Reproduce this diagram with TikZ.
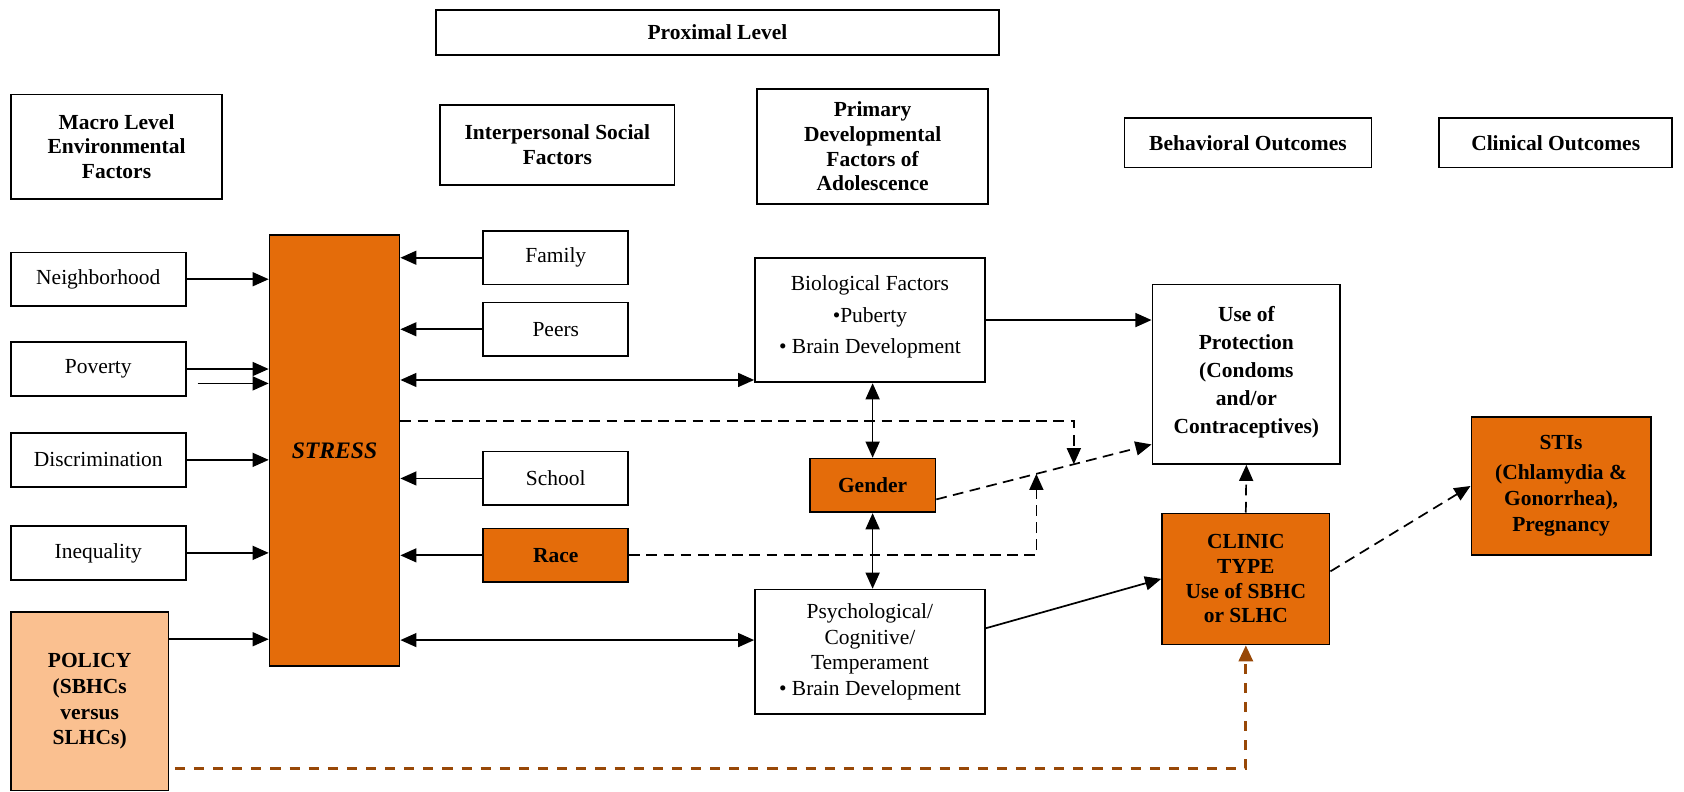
\documentclass[tikz,border=0pt]{standalone}
\usepackage{fontspec}
\setmainfont{Liberation Serif}
\usetikzlibrary{positioning}
\usetikzlibrary{calc}
\usetikzlibrary{arrows.meta}
\definecolor{stressorange}{RGB}{228,108,10}
\definecolor{policypeach}{RGB}{250,192,144}
\definecolor{policybrown}{RGB}{152,72,7}

\begin{document}
\begin{tikzpicture}[x=0.5pt, y=-0.5pt, line width=0.8pt,
        every node/.style={align=center, font=\fontsize{10}{12}\selectfont},
        plainbox/.style={draw, inner sep=1pt},
        headbox/.style={plainbox, font=\fontsize{10}{11.5}\selectfont\bfseries},
        hotbox/.style={plainbox, fill=stressorange, font=\fontsize{10}{11.5}\selectfont\bfseries},
        arrowline/.style={-{Triangle[length=7.5pt,width=6.5pt]}},
        twoway/.style={{Triangle[length=7.5pt,width=6.5pt]}-{Triangle[length=7.5pt,width=6.5pt]}},
        dashline/.style={arrowline, dash pattern=on 5pt off 3pt},
        brownline/.style={-{Triangle[length=7.5pt,width=6.5pt]}, draw=policybrown, line width=1.5pt, dash pattern=on 4.7pt off 4.2pt}]

        \useasboundingbox (0,0) rectangle (1568,737);

        % Level headings
        \node[headbox, minimum width=262pt, minimum height=21pt] (proxBox) at (668,30) {Proximal Level};
        \node[headbox, minimum width=98.5pt, minimum height=48.5pt] (macroBox) at (108.5,136.5) {Macro Level\\Environmental\\Factors};
        \node[headbox, minimum width=109pt, minimum height=37pt] (interBox) at (519,135) {Interpersonal Social\\Factors};
        \node[headbox, minimum width=107.5pt, minimum height=53.5pt] (primBox) at (812.5,136.5) {Primary\\Developmental\\Factors of\\Adolescence};
        \node[headbox, minimum width=115pt, minimum height=23pt] (behavBox) at (1162,133) {Behavioral Outcomes};
        \node[headbox, minimum width=108.5pt, minimum height=23pt] (clinOutBox) at (1448.5,133) {Clinical Outcomes};

        % Macro level factors
        \node[plainbox, minimum width=81.5pt, minimum height=25pt] (nbhdBox) at (91.5,260) {Neighborhood};
        \node[plainbox, minimum width=81.5pt, minimum height=25pt, below=16pt of nbhdBox] (povBox) {Poverty};
        \node[plainbox, minimum width=81.5pt, minimum height=25pt, below=16.5pt of povBox] (discBox) {Discrimination};
        \node[plainbox, minimum width=81.5pt, minimum height=25pt, below=17.5pt of discBox] (ineqBox) {Inequality};
        \node[plainbox, fill=policypeach, font=\fontsize{10}{12}\selectfont\bfseries, minimum width=73.5pt, minimum height=83pt] (policyBox) at (83.5,653) {POLICY\\(SBHCs\\versus\\SLHCs)};

        % Stress
        \node[plainbox, fill=stressorange, minimum width=60.5pt, minimum height=200.5pt, font=\fontsize{11}{13}\selectfont\bfseries\itshape] (stressBox) at (311.5,419.5) {STRESS};

        % Interpersonal social factors
        \node[plainbox, minimum width=67.5pt, minimum height=25pt] (famBox) at (517.5,240) {Family};
        \node[plainbox, minimum width=67.5pt, minimum height=25pt, below=7.5pt of famBox] (peerBox) {Peers};
        \node[plainbox, minimum width=67.5pt, minimum height=25pt] (schoolBox) at (517.5,445.5) {School};
        \node[hotbox, minimum width=67.5pt, minimum height=25pt, below=10pt of schoolBox] (raceBox) {Race};

        % Developmental factors
        \node[plainbox, minimum width=107pt, minimum height=58pt] (bioBox) at (810,298) {Biological Factors\\[2.5pt]\textbullet Puberty\\[2.5pt]\textbullet\ Brain Development\\[-7pt]\mbox{}};
        \node[hotbox, minimum width=58.5pt, minimum height=25pt] (genderBox) at (812.5,452) {Gender};
        \node[plainbox, minimum width=107pt, minimum height=58pt] (psychBox) at (810,607) {Psychological/\\Cognitive/\\Temperament\\\textbullet\ Brain Development};

        % Outcomes
        \node[headbox, minimum width=87.5pt, minimum height=83.5pt, font=\fontsize{10}{13}\selectfont\bfseries] (protectBox) at (1160.5,348.5) {Use of\\Protection\\(Condoms\\and/or\\Contraceptives)\\[-9pt]\mbox{}};
        \node[hotbox, minimum width=78pt, minimum height=61pt] (clinicBox) at (1160,539) {CLINIC\\TYPE\\Use of SBHC\\or SLHC};
        \node[hotbox, minimum width=83.5pt, minimum height=64.5pt, font=\fontsize{10}{12}\selectfont\bfseries] (stiBox) at (1453.5,452.5) {STIs\\[2pt](Chlamydia \&\\Gonorrhea),\\Pregnancy};

        % Into stress
        \draw[arrowline] (nbhdBox.east) -- (nbhdBox.east -| stressBox.west);
        \draw[arrowline] (povBox.east) -- (povBox.east -| stressBox.west);
        \coordinate (povStub) at (184,357);
        \draw[arrowline] (povStub) -- (povStub -| stressBox.west);
        \draw[arrowline] (discBox.east) -- (discBox.east -| stressBox.west);
        \draw[arrowline] (ineqBox.east) -- (ineqBox.east -| stressBox.west);
        \coordinate (policyIn) at ([yshift=-13pt]policyBox.north east);
        \draw[arrowline] (policyIn) -- (policyIn -| stressBox.west);
        \draw[arrowline] (famBox.west) -- (famBox.west -| stressBox.east);
        \draw[arrowline] (peerBox.west) -- (peerBox.west -| stressBox.east);
        \draw[arrowline] (schoolBox.west) -- (schoolBox.west -| stressBox.east);
        \draw[arrowline] (raceBox.west) -- (raceBox.west -| stressBox.east);

        % Stress and development
        \coordinate (bioIn) at ([yshift=1.5pt]bioBox.south west);
        \draw[twoway] (bioIn -| stressBox.east) -- (bioIn);
        \coordinate (psychIn) at ([yshift=5.5pt]psychBox.west);
        \draw[twoway] (psychIn -| stressBox.east) -- (psychIn);
        \draw[twoway] (genderBox.north |- bioBox.south) -- (genderBox.north);
        \draw[twoway] (genderBox.south) -- (genderBox.south |- psychBox.north);

        % Toward outcomes
        \draw[arrowline] (bioBox.east) -- (bioBox.east -| protectBox.west);
        \draw[arrowline] ([yshift=11pt]psychBox.east) -- (clinicBox.west);
        \coordinate (genderOut) at ([yshift=-6.5pt]genderBox.east);
        \coordinate (protectIn) at ([yshift=9.5pt]protectBox.south west);
        \draw[dashline] (genderOut) -- (protectIn) coordinate[pos=0.465] (raceHit) coordinate[pos=0.639] (stressHit);
        \coordinate (stressOut) at ([yshift=13.75pt]stressBox.east);
        \draw[dashline] (stressOut) -| (stressHit);
        \draw[dashline] (raceBox.east) -| (raceHit);
        \draw[dashline] (clinicBox.north) -- (protectBox.south);
        \draw[dashline] ([yshift=3.5pt]clinicBox.east) -- (stiBox.west);

        % Policy to clinic type
        \coordinate (policyOut) at ([xshift=2.5pt,yshift=10.5pt]policyBox.south east);
        \draw[brownline] (policyOut) -| (clinicBox.south);

    \end{tikzpicture}
\end{document}
